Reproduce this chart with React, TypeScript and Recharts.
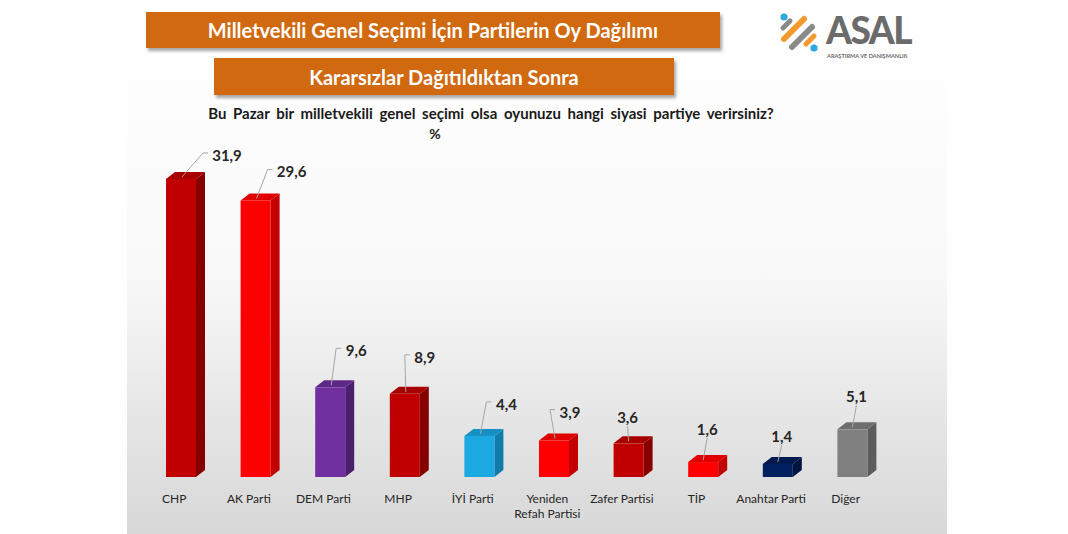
import React from "react";
import { BarChart, Bar, XAxis, YAxis, Cell, LabelList } from "recharts";

const parties = [
  "CHP",
  "AK Parti",
  "DEM Parti",
  "MHP",
  "İYİ Parti",
  "Yeniden Refah Partisi",
  "Zafer Partisi",
  "TİP",
  "Anahtar Parti",
  "Diğer",
];
const voteShares = [31.9, 29.6, 9.6, 8.9, 4.4, 3.9, 3.6, 1.6, 1.4, 5.1];

const faceColors = ["#C00000", "#FF0000", "#7030A0", "#C00000", "#1CA8E0", "#FF0000", "#C00000", "#FF0000", "#002060", "#808080"];
const topColors = ["#A80000", "#E00000", "#5E2889", "#A80000", "#1690C4", "#E00000", "#A80000", "#E00000", "#001A50", "#6E6E6E"];
const sideColors = ["#860000", "#C20000", "#4A1F6E", "#860000", "#117CAA", "#C20000", "#860000", "#C20000", "#001440", "#5C5C5C"];

const data = parties.map((p, i) => ({ party: p, value: voteShares[i], i }));

const FONT = "Lato, 'Open Sans', 'DejaVu Sans', sans-serif";
const DEPTH = 9;
const RISE = 7;

// manual label placement (like hand-moved data labels)
const labelNudge: [number, number][] = [
  [46, -24], [36, -29], [26, -37], [20, -37], [27, -32],
  [16, -29], [-1, -26], [4, -33], [4, -28], [4, -33],
];

const Bar3D = (props: any) => {
  const { x, y, width: w, height: h, index } = props;
  if (h == null || w == null) return null;
  const d = DEPTH, r = RISE;
  return (
    <g>
      <polygon points={`${x + w},${y} ${x + w + d},${y - r} ${x + w + d},${y + h - r} ${x + w},${y + h}`} fill={sideColors[index]} />
      <polygon points={`${x},${y} ${x + d},${y - r} ${x + w + d},${y - r} ${x + w},${y}`} fill={topColors[index]} />
      <rect x={x} y={y} width={w} height={h} fill={faceColors[index]} />
    </g>
  );
};

const ValueLabel = (props: any) => {
  const { x, y, width, value, index } = props;
  const cx = x + width / 2;
  const [dx, dy] = labelNudge[index];
  const tx = cx + dx;
  const ty = y + dy;
  const txt = Number(value).toFixed(1).replace(".", ",");
  const halfW = txt.length * 4;
  let path: string;
  if (dx > 10) {
    const left = tx - halfW;
    path = `M${cx + 1},${y - 2} L${left - 8},${ty - 2} L${left - 3},${ty - 2}`;
  } else {
    path = `M${cx},${y - 2} L${tx},${ty + 9}`;
  }
  return (
    <g>
      <path d={path} stroke="#A6A6A6" strokeWidth={1} fill="none" />
      <text x={tx} y={ty} textAnchor="middle" dominantBaseline="central" fontFamily={FONT} fontWeight={700} fontSize={15} fill="#262626">
        {txt}
      </text>
    </g>
  );
};

const PartyTick = (props: any) => {
  const { x, y, payload } = props;
  const name: string = payload.value;
  let lines = [name];
  if (name.length > 14) {
    const k = name.indexOf(" ");
    lines = [name.slice(0, k), name.slice(k + 1)];
  }
  return (
    <g>
      {lines.map((ln, j) => (
        <text key={j} x={x - 7} y={y + 21 + j * 15} textAnchor="middle" dominantBaseline="central" fontFamily={FONT} fontSize={12} fill="#262626">
          {ln}
        </text>
      ))}
    </g>
  );
};

const Logo = () => (
  <svg width={160} height={64} style={{ position: "absolute", left: 770, top: 0 }}>
    <g transform="translate(10,13)">
      <line x1={4} y1={26} x2={24} y2={6} stroke="#F39A2E" strokeWidth={6} strokeLinecap="round" />
      <line x1={12} y1={34} x2={32} y2={14} stroke="#8A8A8A" strokeWidth={6} strokeLinecap="round" />
      <line x1={3} y1={15} x2={10} y2={8} stroke="#8A8A8A" strokeWidth={5} strokeLinecap="round" />
      <line x1={26} y1={31} x2={34} y2={23} stroke="#F39A2E" strokeWidth={5} strokeLinecap="round" />
      <circle cx={4} cy={4} r={3.6} fill="#2FA8E0" />
      <circle cx={34} cy={35} r={3.6} fill="#2FA8E0" />
    </g>
    <text x={56} y={44} fontFamily={FONT} fontWeight={900} fontSize={37} fill="#6B6B6B" letterSpacing={-1.5}>
      ASAL
    </text>
    <text x={57} y={58} fontFamily={FONT} fontWeight={700} fontSize={5.6} fill="#6B6B6B">
      ARAŞTIRMA VE DANIŞMANLIK
    </text>
  </svg>
);

const bannerStyle: React.CSSProperties = {
  position: "absolute",
  background: "#D0690F",
  color: "#FFFFFF",
  fontFamily: FONT,
  fontWeight: 700,
  display: "flex",
  alignItems: "center",
  justifyContent: "center",
  boxShadow: "2px 3px 3px rgba(0,0,0,0.35)",
  whiteSpace: "nowrap",
};

export default function App() {
  return (
    <div style={{ position: "fixed", left: 0, top: 0, width: 1068, height: 534, background: "#FEFEFE", overflow: "hidden" }}>
      <div style={{ position: "absolute", left: 127, top: 58, width: 820, height: 476, background: "linear-gradient(to bottom, #FEFEFE 0%, #F9F9F9 45%, #E6E6E6 75%, #D8D8D8 100%)" }} />
      <div style={{ ...bannerStyle, left: 146, top: 12, width: 574, height: 36, fontSize: 20 }}>
        Milletvekili Genel Seçimi İçin Partilerin Oy Dağılımı
      </div>
      <div style={{ ...bannerStyle, left: 214, top: 58, width: 460, height: 37, fontSize: 20 }}>
        Kararsızlar Dağıtıldıktan Sonra
      </div>
      <Logo />
      <div style={{ position: "absolute", left: 0, top: 104, width: 982, textAlign: "center", fontFamily: FONT, fontWeight: 700, fontSize: 15, wordSpacing: 3, color: "#1A1A1A", whiteSpace: "nowrap" }}>
        Bu Pazar bir milletvekili genel seçimi olsa oyunuzu hangi siyasi partiye verirsiniz?
      </div>
      <div style={{ position: "absolute", left: 0, top: 125, width: 870, textAlign: "center", fontFamily: FONT, fontWeight: 700, fontSize: 14, color: "#1A1A1A" }}>
        %
      </div>
      <div style={{ position: "absolute", left: 0, top: 0 }}>
        <BarChart width={1068} height={534} data={data} margin={{ top: 150, right: 178, bottom: 17, left: 144 }}>
          <YAxis hide domain={[0, 35]} />
          <XAxis dataKey="party" axisLine={false} tickLine={false} tickSize={0} tickMargin={0} height={40} interval={0} tick={<PartyTick />} />
          <Bar dataKey="value" barSize={30} shape={<Bar3D />} isAnimationActive={false}>
            {data.map((e, i) => (
              <Cell key={i} fill={faceColors[i]} />
            ))}
            <LabelList dataKey="value" content={<ValueLabel />} />
          </Bar>
        </BarChart>
      </div>
    </div>
  );
}
